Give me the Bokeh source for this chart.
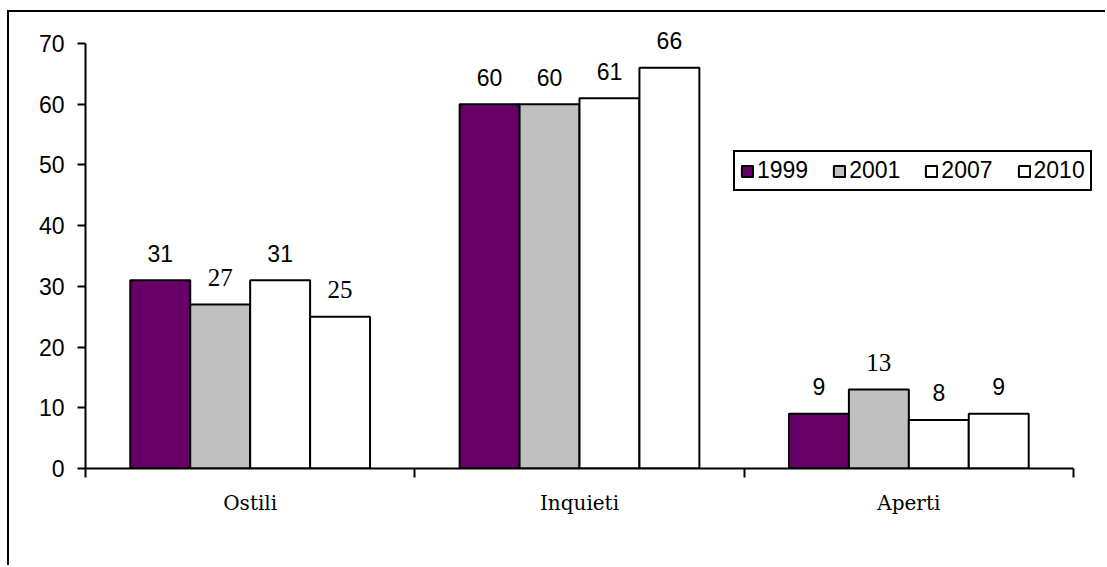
from bokeh.plotting import figure
from bokeh.models import (ColumnDataSource, Range1d, LinearAxis,
                          FixedTicker, Legend, LegendItem)
from bokeh.transform import dodge
from bokeh.embed import file_html
from bokeh.resources import INLINE

categories = ["Ostili", "Inquieti", "Aperti"]
years = ["1999", "2001", "2007", "2010"]
v1999 = [31, 60, 9]
v2001 = [27, 60, 13]
v2007 = [31, 61, 8]
v2010 = [25, 66, 9]
series = [v1999, v2001, v2007, v2010]
colors = ["#660066", "#C0C0C0", "#FFFFFF", "#FFFFFF"]
# which data labels are drawn in a serif face in the reference
serif_labels = [[False, False, False], [True, False, True],
                [False, False, False], [True, False, False]]
y_ticks = [0, 10, 20, 30, 40, 50, 60, 70]

SANS = "Liberation Sans"
SERIF_LBL = "Liberation Serif"
SERIF_CAT = "DejaVu Serif"

n = len(categories)
# category i occupies the interval [i, i+1]; a little room on the right for the legend
x_end = n * 1010 / 988
# room above 70 so that the top data label is not clipped
y_end = 70 + 23 * 70 / 425

p = figure(width=1098, height=555,
           x_range=Range1d(0, x_end),
           y_range=Range1d(0, y_end),
           output_backend="svg", toolbar_location=None,
           x_axis_location=None,
           min_border_left=76, min_border_right=12,
           min_border_top=8, min_border_bottom=99)
p.styles = {"border-left": "2px solid black", "border-top": "2px solid black",
            "margin-left": "7px", "margin-top": "10px"}
p.outline_line_color = None
p.grid.visible = False
p.background_fill_color = "white"
p.border_fill_color = "white"

# y axis
ya = p.yaxis[0]
ya.ticker = FixedTicker(ticks=y_ticks)
ya.bounds = (0, 70)
ya.axis_line_width = 2
ya.major_tick_line_width = 2
ya.major_tick_out = 8
ya.major_tick_in = 0
ya.minor_tick_line_color = None
ya.major_label_standoff = 13
ya.major_label_text_font = SANS
ya.major_label_text_font_size = "23px"
ya.major_label_text_color = "black"

# x axis: ticks at category boundaries, labels at centres
centers = [i + 0.5 for i in range(n)]
bounds = [float(i) for i in range(n + 1)]
overrides = {}
for c, name in zip(centers, categories):
    overrides[c] = name
    overrides[str(c)] = name
xa = LinearAxis(ticker=FixedTicker(ticks=centers, minor_ticks=bounds),
                major_label_overrides=overrides, bounds=(0, n))
xa.axis_line_width = 2
xa.major_tick_out = 0
xa.major_tick_in = 0
xa.major_tick_line_color = None
xa.minor_tick_out = 9
xa.minor_tick_in = 0
xa.minor_tick_line_width = 2
xa.major_label_standoff = 13
xa.major_label_text_font = SERIF_CAT
xa.major_label_text_font_size = "20px"
xa.major_label_text_color = "black"
p.add_layout(xa, "below")

bar_w = 0.182
offsets = [-0.273, -0.091, 0.091, 0.273]

items = []
for k, (yr, vals, col) in enumerate(zip(years, series, colors)):
    fonts = [SERIF_LBL if s else SANS for s in serif_labels[k]]
    sizes = ["25px" if s else "23px" for s in serif_labels[k]]
    src = ColumnDataSource(dict(cat=categories, pos=centers, val=vals,
                                lbl=[str(v) for v in vals],
                                font=fonts, size=sizes))
    r = p.vbar(x=dodge("pos", offsets[k]), top="val",
               width=bar_w, source=src, fill_color=col,
               line_color="black", line_width=2)
    p.text(x=dodge("pos", offsets[k]), y="val", text="lbl",
           source=src, text_align="center", text_baseline="alphabetic",
           y_offset=-27, text_font="font", text_font_size="size",
           text_color="black")
    items.append(LegendItem(label=yr, renderers=[r]))

legend = Legend(items=items, orientation="horizontal", location=(648, 277),
                padding=5, spacing=24, margin=0,
                glyph_width=14, glyph_height=14, label_standoff=3,
                label_width=50,
                label_text_font=SANS, label_text_font_size="23px",
                label_text_color="black",
                border_line_color="black", border_line_width=2,
                border_line_alpha=1.0,
                background_fill_alpha=1.0)
p.add_layout(legend)

open("out.html", "w").write(file_html(p, INLINE))
